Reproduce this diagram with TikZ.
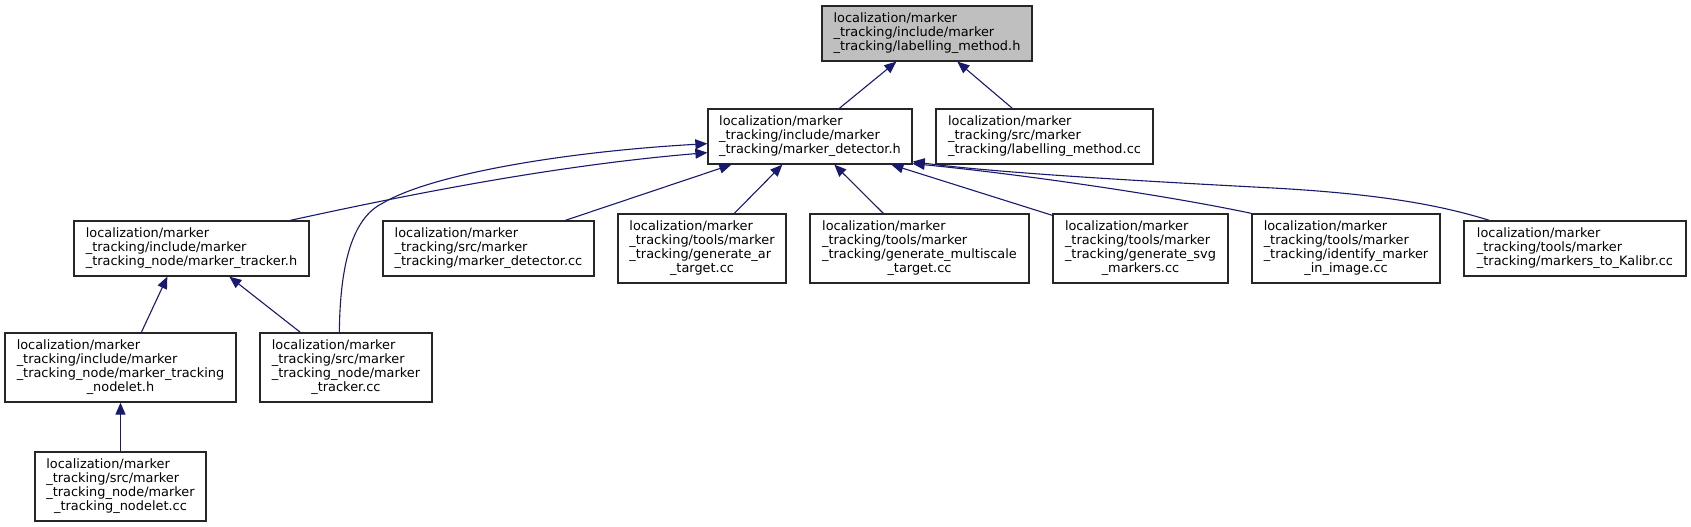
\documentclass[tikz,border=0pt]{standalone}
\usepackage{fontspec}
\setmainfont{DejaVu Sans}
\usetikzlibrary{arrows.meta}
\definecolor{edgeblue}{HTML}{191970}
\definecolor{rootgray}{HTML}{BFBFBF}
\newcommand{\lns}[2]{\raisebox{-1.5pt}{\begin{tabular}{@{}l@{}}#1\\\multicolumn{1}{@{}c@{}}{#2}\end{tabular}}}
\begin{document}
\begin{tikzpicture}[x=1pt,y=-1pt,
  box/.style={draw=black!85, line width=1.3pt, inner sep=0pt, fill=white,
    font=\fontsize{12.9}{14}\selectfont},
  edge/.style={draw=edgeblue, line width=1.1pt, -{Triangle[length=12pt,width=10pt]}}]
\useasboundingbox (0,0) rectangle (1691,527);
\fill[white] (0,0) rectangle (1691,527);

\node[box, fill=rootgray, minimum width=210pt, minimum height=55pt] (root) at (927,33.5)
  {\lns{localization/marker\\\_tracking/include/marker}{\_tracking/labelling\_method.h}};
\node[box, minimum width=204pt, minimum height=55pt] (deth) at (810,136.5)
  {\lns{localization/marker\\\_tracking/include/marker}{\_tracking/marker\_detector.h}};
\node[box, minimum width=217pt, minimum height=55pt] (labcc) at (1044.5,136.5)
  {\lns{localization/marker\\\_tracking/src/marker}{\_tracking/labelling\_method.cc}};
\node[box, minimum width=235pt, minimum height=55pt] (trackh) at (191.5,248.5)
  {\lns{localization/marker\\\_tracking/include/marker}{\_tracking\_node/marker\_tracker.h}};
\node[box, minimum width=211pt, minimum height=55pt] (detcc) at (488.5,248.5)
  {\lns{localization/marker\\\_tracking/src/marker}{\_tracking/marker\_detector.cc}};
\node[box, minimum width=168pt, minimum height=69pt] (genar) at (702,248.5)
  {\lns{localization/marker\\\_tracking/tools/marker\\\_tracking/generate\_ar}{\_target.cc}};
\node[box, minimum width=219pt, minimum height=69pt] (multi) at (919.5,248.5)
  {\lns{localization/marker\\\_tracking/tools/marker\\\_tracking/generate\_multiscale}{\_target.cc}};
\node[box, minimum width=175pt, minimum height=69pt] (svg) at (1140.5,248.5)
  {\lns{localization/marker\\\_tracking/tools/marker\\\_tracking/generate\_svg}{\_markers.cc}};
\node[box, minimum width=188pt, minimum height=69pt] (ident) at (1346,248.5)
  {\lns{localization/marker\\\_tracking/tools/marker\\\_tracking/identify\_marker}{\_in\_image.cc}};
\node[box, minimum width=222pt, minimum height=55pt] (kalibr) at (1575,248.5)
  {\lns{localization/marker\\\_tracking/tools/marker}{\_tracking/markers\_to\_Kalibr.cc}};
\node[box, minimum width=231pt, minimum height=69pt] (nodeleth) at (120.5,367.5)
  {\lns{localization/marker\\\_tracking/include/marker\\\_tracking\_node/marker\_tracking}{\_nodelet.h}};
\node[box, minimum width=172pt, minimum height=69pt] (trackcc) at (346,367.5)
  {\lns{localization/marker\\\_tracking/src/marker\\\_tracking\_node/marker}{\_tracker.cc}};
\node[box, minimum width=171pt, minimum height=69pt] (nodeletcc) at (120.5,486.5)
  {\lns{localization/marker\\\_tracking/src/marker\\\_tracking\_node/marker}{\_tracking\_nodelet.cc}};

% edges: child -> parent
\draw[edge] ([xshift=132pt]deth.north west) -- ([xshift=75pt]root.south west);
\draw[edge] ([xshift=77pt]labcc.north west) -- ([xshift=136pt]root.south west);
\draw[edge] ([xshift=217pt]trackh.north west) .. controls (420,192) and (560,165) .. ([yshift=12pt]deth.south west);
\draw[edge] ([xshift=80pt]trackcc.north west) .. controls (340,265) and (352,218) .. (383,203)
  .. controls (430,175) and (560,152) .. ([yshift=21pt]deth.south west);
\draw[edge] ([xshift=183pt]detcc.north west) -- ([xshift=24pt]deth.south west);
\draw[edge] ([xshift=117pt]genar.north west) -- ([xshift=75pt]deth.south west);
\draw[edge] ([xshift=74pt]multi.north west) -- ([xshift=127pt]deth.south west);
\draw[edge] ([yshift=-2pt]svg.north west) -- ([xshift=184pt]deth.south west);
\draw[edge] (ident.north west) .. controls (1150,192) and (1000,172) .. ([yshift=1pt]deth.south east);
\draw[edge] ([xshift=26pt]kalibr.north west) .. controls (1440,205) and (1380,194) .. (1273,188)
  .. controls (1120,180) and (990,172) .. ([yshift=3pt]deth.south east);
\draw[edge] ([xshift=137pt]nodeleth.north west) -- ([xshift=94pt]trackh.south west);
\draw[edge] ([xshift=41pt]trackcc.north west) -- ([xshift=156pt]trackh.south west);
\draw[edge] (nodeletcc.north) -- (nodeleth.south);
\end{tikzpicture}
\end{document}
